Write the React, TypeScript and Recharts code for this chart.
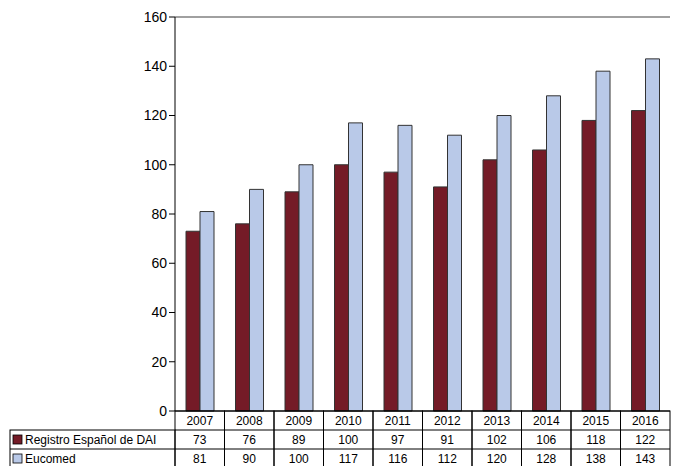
import React from 'react';
import { BarChart, Bar, XAxis, YAxis, ReferenceLine } from 'recharts';

const years = ['2007', '2008', '2009', '2010', '2011', '2012', '2013', '2014', '2015', '2016'];
const registro = [73, 76, 89, 100, 97, 91, 102, 106, 118, 122];
const eucomed = [81, 90, 100, 117, 116, 112, 120, 128, 138, 143];
const yTicks = [0, 20, 40, 60, 80, 100, 120, 140, 160];
const seriesNames = ['Registro Español de DAI', 'Eucomed'];

const MAROON = '#741b27';
const BLUE = '#b9c9e8';
const data = years.map((y, i) => ({ year: y, registro: registro[i], eucomed: eucomed[i] }));

const COL_W = 49.5;
const ROW_H = 19;
const LABEL_X = 10;

function TableTick(props: any) {
  const { x, y, index } = props;
  const left = x - COL_W / 2;
  const txt = { fontSize: 12, fill: '#000', textAnchor: 'middle' as const };
  return (
    <g>
      <rect x={left} y={y} width={COL_W} height={ROW_H * 3} fill="none" stroke="#000" strokeWidth={1} />
      <line x1={left} x2={left + COL_W} y1={y + ROW_H} y2={y + ROW_H} stroke="#000" />
      <line x1={left} x2={left + COL_W} y1={y + ROW_H * 2} y2={y + ROW_H * 2} stroke="#000" />
      <text x={x} y={y + 14} {...txt}>{years[index]}</text>
      <text x={x} y={y + ROW_H + 14} {...txt}>{registro[index]}</text>
      <text x={x} y={y + ROW_H * 2 + 14} {...txt}>{eucomed[index]}</text>
      {index === 0 && (
        <g>
          <rect x={LABEL_X} y={y + ROW_H} width={left - LABEL_X} height={ROW_H * 2} fill="none" stroke="#000" />
          <line x1={LABEL_X} x2={left} y1={y + ROW_H * 2} y2={y + ROW_H * 2} stroke="#000" />
          <rect x={LABEL_X + 3} y={y + ROW_H + 5} width={9} height={9} fill={MAROON} stroke="#000" strokeWidth={0.8} />
          <rect x={LABEL_X + 3} y={y + ROW_H * 2 + 5} width={9} height={9} fill={BLUE} stroke="#000" strokeWidth={0.8} />
          <text x={LABEL_X + 15} y={y + ROW_H + 14} fontSize={12} fill="#000">{seriesNames[0]}</text>
          <text x={LABEL_X + 15} y={y + ROW_H * 2 + 14} fontSize={12} fill="#000">{seriesNames[1]}</text>
        </g>
      )}
    </g>
  );
}

export default function App() {
  return (
    <div style={{ position: 'absolute', left: 0, top: 0, fontFamily: '"Liberation Sans", Arial, sans-serif' }}>
      <BarChart
        width={675}
        height={466}
        data={data}
        margin={{ top: 17, right: 5, left: 130, bottom: 0 }}
        barGap={0}
        barSize={14}
      >
        <XAxis
          dataKey="year"
          height={55}
          axisLine={{ stroke: '#000' }}
          tickLine={false}
          tickSize={0}
          tickMargin={0}
          interval={0}
          tick={<TableTick />}
        />
        <YAxis
          width={45}
          domain={[0, 160]}
          ticks={yTicks}
          axisLine={{ stroke: '#000' }}
          tickLine={{ stroke: '#000' }}
          tickSize={6}
          tick={{ fontSize: 14, fill: '#000' }}
        />
        <ReferenceLine y={160} stroke="#808080" strokeWidth={1.5} />
        <Bar dataKey="registro" fill={MAROON} stroke="#333" strokeWidth={1} isAnimationActive={false} />
        <Bar dataKey="eucomed" fill={BLUE} stroke="#333" strokeWidth={1} isAnimationActive={false} />
      </BarChart>
    </div>
  );
}
